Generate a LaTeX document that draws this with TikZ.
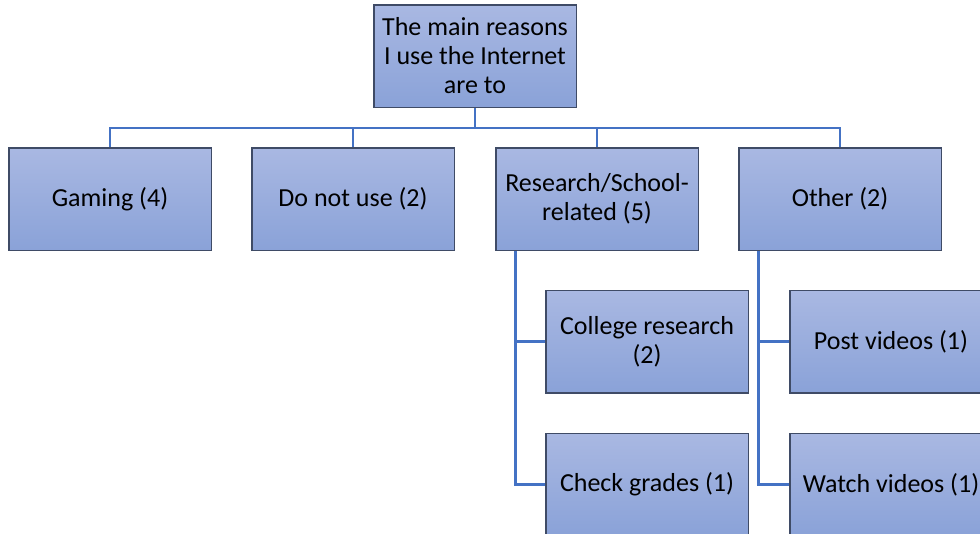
\documentclass[tikz,border=0pt]{standalone}
\usepackage{fontspec}
\setmainfont{Carlito}
\definecolor{boxtop}{HTML}{A9B8E2}
\definecolor{boxbot}{HTML}{8AA2D8}
\definecolor{boxedge}{HTML}{3F4B66}
\definecolor{linkblue}{HTML}{4472C4}
\begin{document}
\begin{tikzpicture}[x=1pt,y=-1pt,
  orgbox/.style={rectangle, draw=boxedge, line width=1pt,
    top color=boxtop, bottom color=boxbot,
    minimum width=202pt, minimum height=102pt,
    align=center, inner sep=2pt,
    font=\fontsize{26}{29}\selectfont, text=black},
  link/.style={draw=linkblue, line width=2.6pt}]
  \useasboundingbox (0,0) rectangle (980,533);
  \clip (0,0) rectangle (980,533);

  % root and first level
  \node[orgbox] (root) at (475,56) {The main reasons\\I use the Internet\\are to};
  \node[orgbox] (gaming) at (110,199) {Gaming (4)};
  \node[orgbox] (nouse) at (353,199) {Do not use (2)};
  \node[orgbox] (research) at (597,199) {Research/School-\\related (5)};
  \node[orgbox] (other) at (840,199) {Other (2)};

  % second level
  \node[orgbox] (college) at (647,341.5) {College research\\(2)};
  \node[orgbox] (grades) at (647,484.5) {Check grades (1)};
  \node[orgbox] (post) at (891,341.5) {Post videos (1)};
  \node[orgbox] (watch) at (891,484.5) {Watch videos (1)};

  % bus between root and first level
  \coordinate (bus) at (0,128);
  \draw[link] (root.south) -- (root.south |- bus);
  \draw[link] (gaming.north) -- (gaming.north |- bus) -- (other.north |- bus) -- (other.north);
  \draw[link] (nouse.north) -- (nouse.north |- bus);
  \draw[link] (research.north) -- (research.north |- bus);

  % branches to second level
  \coordinate (rtrunk) at ([xshift=20pt]research.south west);
  \coordinate (otrunk) at ([xshift=20pt]other.south west);
  \draw[link] (rtrunk) |- (college.west);
  \draw[link] (rtrunk) |- (grades.west);
  \draw[link] (otrunk) |- (post.west);
  \draw[link] (otrunk) |- (watch.west);

  % redraw box outlines over the line ends
  \foreach \n in {root,gaming,nouse,research,other,college,grades,post,watch}{
    \draw[boxedge, line width=1pt] (\n.south west) rectangle (\n.north east);
  }
\end{tikzpicture}
\end{document}
